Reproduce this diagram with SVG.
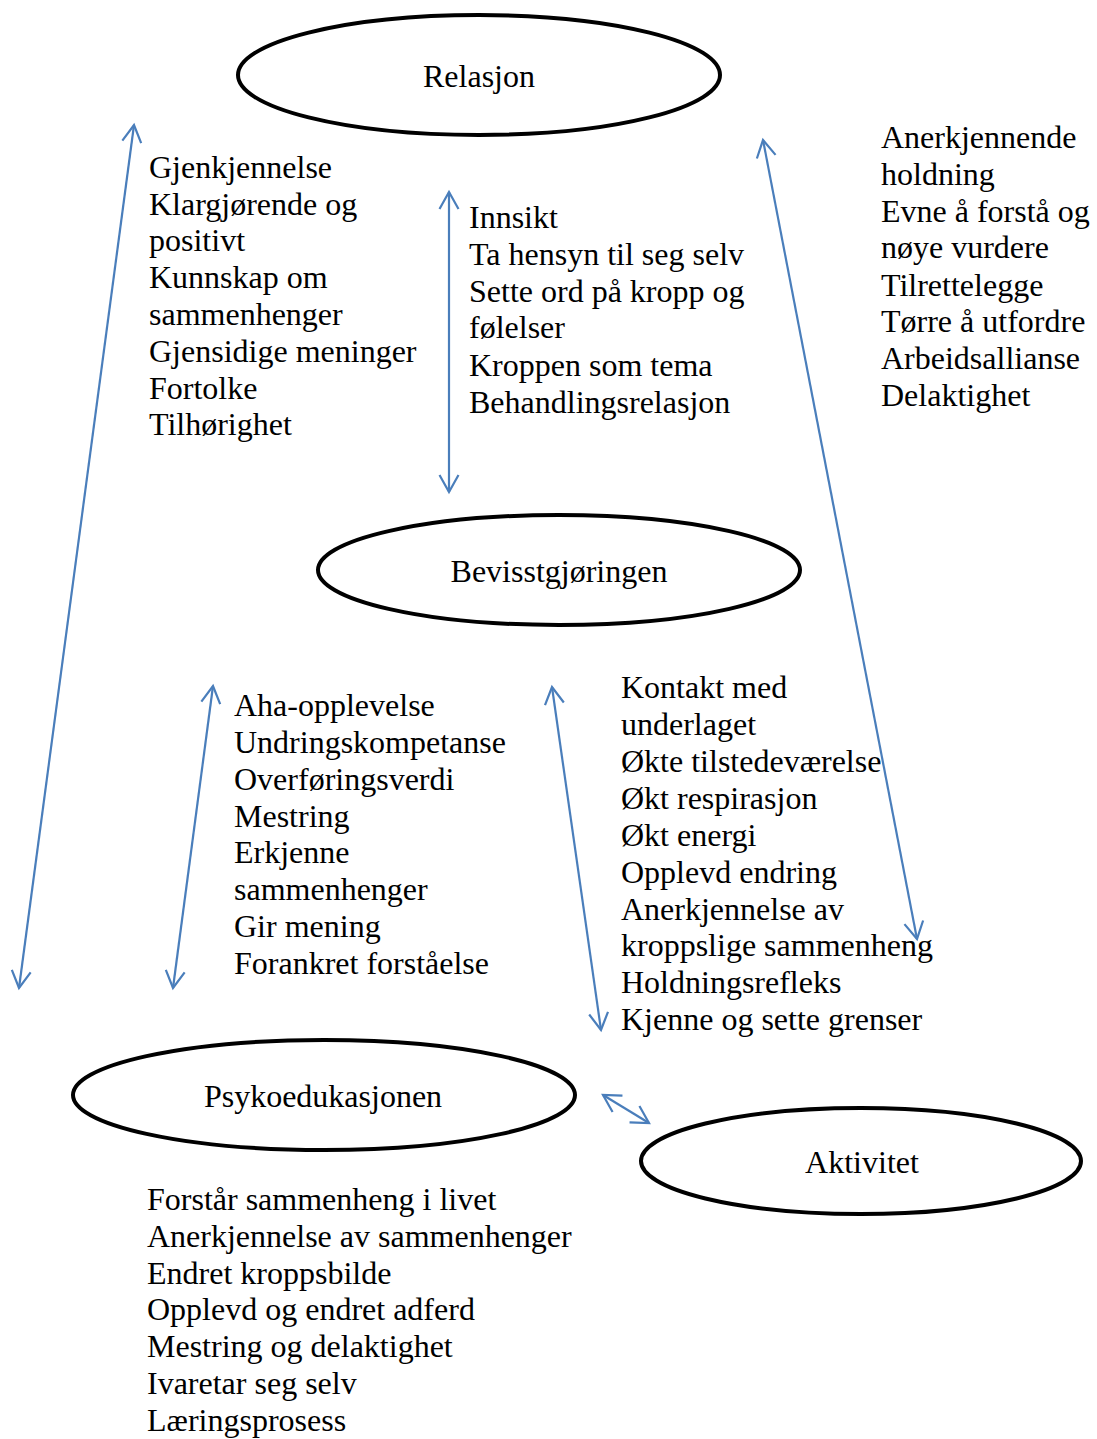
<svg xmlns="http://www.w3.org/2000/svg" width="1097" height="1439" viewBox="0 0 1097 1439">
<style>
text{font-family:"Liberation Serif","Times New Roman",serif;font-size:32px;fill:#000}
.n{fill:#fff;stroke:#000;stroke-width:4}
.c{stroke:#4a7ebb;stroke-width:2.2;fill:none;marker-start:url(#ah);marker-end:url(#ah)}
</style>
<defs>
<marker id="ah" markerUnits="userSpaceOnUse" viewBox="-22 -12 26 24" markerWidth="26" markerHeight="24" refX="0" refY="0" orient="auto-start-reverse">
<path d="M-17,-9.5 L0,0 L-17,9.5" fill="none" stroke="#4a7ebb" stroke-width="2.2"/>
</marker>
</defs>
<rect width="1097" height="1439" fill="#fff"/>
<g id="connectors">
<line class="c" x1="134" y1="125" x2="19" y2="988"/>
<line class="c" x1="213" y1="686" x2="173" y2="988"/>
<line class="c" x1="449" y1="192" x2="449" y2="492"/>
<line class="c" x1="763" y1="140" x2="917" y2="939"/>
<line class="c" x1="552" y1="687" x2="601" y2="1030"/>
<line class="c" x1="603" y1="1095" x2="649" y2="1123"/>
</g>
<g id="relasjon"><ellipse class="n" cx="479" cy="75" rx="241" ry="60"/><text x="479" y="87" text-anchor="middle">Relasjon</text></g>
<g id="bevisstgjoringen"><ellipse class="n" cx="559" cy="570" rx="241" ry="55"/><text x="559" y="582" text-anchor="middle">Bevisstgjøringen</text></g>
<g id="psykoedukasjonen"><ellipse class="n" cx="324" cy="1095" rx="251" ry="55"/><text x="323" y="1107" text-anchor="middle">Psykoedukasjonen</text></g>
<g id="aktivitet"><ellipse class="n" cx="861" cy="1161" rx="220" ry="53"/><text x="862" y="1173" text-anchor="middle">Aktivitet</text></g>
<g id="text-relasjon-psyko">
<text x="149" y="178">Gjenkjennelse</text>
<text x="149" y="215">Klargjørende og</text>
<text x="149" y="251">positivt</text>
<text x="149" y="288">Kunnskap om</text>
<text x="149" y="325">sammenhenger</text>
<text x="149" y="362">Gjensidige meninger</text>
<text x="149" y="399">Fortolke</text>
<text x="149" y="435">Tilhørighet</text>
</g>
<g id="text-relasjon-bevisst">
<text x="469" y="228">Innsikt</text>
<text x="469" y="265">Ta hensyn til seg selv</text>
<text x="469" y="302">Sette ord på kropp og</text>
<text x="469" y="338">følelser</text>
<text x="469" y="376">Kroppen som tema</text>
<text x="469" y="413">Behandlingsrelasjon</text>
</g>
<g id="text-relasjon-aktivitet">
<text x="881" y="148">Anerkjennende</text>
<text x="881" y="185">holdning</text>
<text x="881" y="222">Evne å forstå og</text>
<text x="881" y="258">nøye vurdere</text>
<text x="881" y="296">Tilrettelegge</text>
<text x="881" y="332">Tørre å utfordre</text>
<text x="881" y="369">Arbeidsallianse</text>
<text x="881" y="406">Delaktighet</text>
</g>
<g id="text-bevisst-psyko">
<text x="234" y="716">Aha-opplevelse</text>
<text x="234" y="753">Undringskompetanse</text>
<text x="234" y="790">Overføringsverdi</text>
<text x="234" y="827">Mestring</text>
<text x="234" y="863">Erkjenne</text>
<text x="234" y="900">sammenhenger</text>
<text x="234" y="937">Gir mening</text>
<text x="234" y="974">Forankret forståelse</text>
</g>
<g id="text-bevisst-aktivitet">
<text x="621" y="698">Kontakt med</text>
<text x="621" y="735">underlaget</text>
<text x="621" y="772">Økte tilstedeværelse</text>
<text x="621" y="809">Økt respirasjon</text>
<text x="621" y="846">Økt energi</text>
<text x="621" y="883">Opplevd endring</text>
<text x="621" y="920">Anerkjennelse av</text>
<text x="621" y="956">kroppslige sammenheng</text>
<text x="621" y="993">Holdningsrefleks</text>
<text x="621" y="1030">Kjenne og sette grenser</text>
</g>
<g id="text-psyko">
<text x="147" y="1210">Forstår sammenheng i livet</text>
<text x="147" y="1247">Anerkjennelse av sammenhenger</text>
<text x="147" y="1284">Endret kroppsbilde</text>
<text x="147" y="1320">Opplevd og endret adferd</text>
<text x="147" y="1357">Mestring og delaktighet</text>
<text x="147" y="1394">Ivaretar seg selv</text>
<text x="147" y="1431">Læringsprosess</text>
</g>
</svg>
